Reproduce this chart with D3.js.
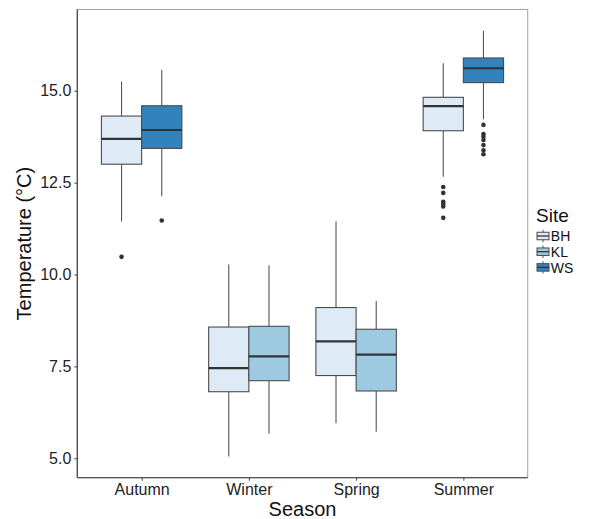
<!DOCTYPE html>
<html>
<head>
<meta charset="utf-8">
<script src="https://cdn.jsdelivr.net/npm/d3@7"></script>
<style>
  html, body { margin: 0; padding: 0; background: #fff; }
  svg { display: block; font-family: "Liberation Sans", Arial, sans-serif; }
</style>
</head>
<body>
<svg id="chart" width="590" height="519"></svg>
<script>
// ---- Data ----
const seasons = ["Autumn", "Winter", "Spring", "Summer"];
const sites = ["BH", "KL", "WS"];
const siteColors = ["#deebf7", "#9ecae1", "#3182bd"];

const boxSeason = ["Autumn", "Autumn", "Winter", "Winter", "Spring", "Spring", "Summer", "Summer"];
const boxSite   = ["BH", "WS", "BH", "KL", "BH", "KL", "BH", "WS"];
const whiskerLow  = [11.44, 12.13, 5.05, 5.67, 5.95, 5.72, 12.66, 14.22];
const q1          = [13.00, 13.43, 6.81, 7.11, 7.25, 6.83, 13.91, 15.22];
const medians     = [13.69, 13.93, 7.45, 7.77, 8.18, 7.82, 14.58, 15.61];
const q3          = [14.31, 14.59, 8.57, 8.59, 9.10, 8.51, 14.82, 15.89];
const whiskerHigh = [15.25, 15.57, 10.27, 10.25, 11.45, 9.28, 15.75, 16.63];
const outliers = [
  [10.48],
  [11.47],
  [],
  [],
  [],
  [],
  [12.38, 12.22, 11.98, 11.92, 11.85, 11.54],
  [14.07, 13.82, 13.75, 13.66, 13.52, 13.38, 13.27]
];
const yTicks = [5.0, 7.5, 10.0, 12.5, 15.0];

// ---- Layout ----
const svg = d3.select("#chart");
const panel = { left: 77.3, right: 527.7, top: 9.5, bottom: 477.7 };

const allVals = whiskerLow.concat(whiskerHigh, outliers.flat());
const dMin = d3.min(allVals), dMax = d3.max(allVals);
const pad = (dMax - dMin) * 0.05;

const y = d3.scaleLinear().domain([dMin - pad, dMax + pad]).range([panel.bottom, panel.top]);
const x = d3.scalePoint().domain(seasons).range([panel.left, panel.right]).padding(0.6);
const color = d3.scaleOrdinal().domain(sites).range(siteColors);

const groupW = x.step() * 0.75;
const boxW = groupW / 2;

const boxes = boxSeason.map((s, i) => {
  const sameSeason = boxSeason.map((t, j) => t === s ? j : -1).filter(j => j >= 0);
  const idx = sameSeason.indexOf(i);
  const cx = x(s) - groupW / 2 + boxW * idx + boxW / 2;
  return { i, season: s, site: boxSite[i], cx };
});

// Panel border (top/right light)
svg.append("rect")
  .attr("x", panel.left).attr("y", panel.top)
  .attr("width", panel.right - panel.left).attr("height", panel.bottom - panel.top)
  .attr("fill", "none").attr("stroke", "#a8a8a8").attr("stroke-width", 1.1);

// Boxes
const g = svg.append("g");
boxes.forEach(b => {
  const i = b.i;
  g.append("line").attr("x1", b.cx).attr("x2", b.cx)
    .attr("y1", y(q3[i])).attr("y2", y(whiskerHigh[i]))
    .attr("stroke", "#555").attr("stroke-width", 1.1);
  g.append("line").attr("x1", b.cx).attr("x2", b.cx)
    .attr("y1", y(q1[i])).attr("y2", y(whiskerLow[i]))
    .attr("stroke", "#555").attr("stroke-width", 1.1);
  g.append("rect")
    .attr("x", b.cx - boxW / 2).attr("width", boxW)
    .attr("y", y(q3[i])).attr("height", y(q1[i]) - y(q3[i]))
    .attr("fill", color(b.site)).attr("stroke", "#4a4a4a").attr("stroke-width", 1.1);
  g.append("line").attr("x1", b.cx - boxW / 2).attr("x2", b.cx + boxW / 2)
    .attr("y1", y(medians[i])).attr("y2", y(medians[i]))
    .attr("stroke", "#333").attr("stroke-width", 2.2);
  outliers[i].forEach(v => {
    g.append("circle").attr("cx", b.cx).attr("cy", y(v)).attr("r", 2.3).attr("fill", "#333");
  });
});

// Axes
const yAxis = d3.axisLeft(y).tickValues(yTicks).tickFormat(d3.format(".1f")).tickSize(3).tickPadding(3);
const yg = svg.append("g").attr("transform", `translate(${panel.left},0)`).call(yAxis);
yg.select(".domain").attr("d", `M0,${panel.top}V${panel.bottom}`).attr("stroke", "#444").attr("stroke-width", 1.2);
yg.selectAll(".tick line").attr("stroke", "#444");
yg.selectAll(".tick text").attr("font-size", 16).attr("fill", "#222").attr("font-family", "Liberation Sans, Arial, sans-serif");

const xAxis = d3.axisBottom(x).tickSize(3).tickPadding(3);
const xg = svg.append("g").attr("transform", `translate(0,${panel.bottom})`).call(xAxis);
xg.select(".domain").attr("d", `M${panel.left},0H${panel.right}`).attr("stroke", "#555").attr("stroke-width", 1.2);
xg.selectAll(".tick line").attr("stroke", "#444");
xg.selectAll(".tick text").attr("font-size", 16).attr("fill", "#222").attr("font-family", "Liberation Sans, Arial, sans-serif");

// Axis titles
svg.append("text").attr("x", (panel.left + panel.right) / 2).attr("y", 516)
  .attr("text-anchor", "middle").attr("font-size", 20).attr("fill", "#111").text("Season");
svg.append("text")
  .attr("transform", `translate(31,${(panel.top + panel.bottom) / 2}) rotate(-90)`)
  .attr("text-anchor", "middle").attr("font-size", 20).attr("fill", "#111").text("Temperature (°C)");

// Legend
const lg = svg.append("g");
lg.append("text").attr("x", 536).attr("y", 222).attr("font-size", 19).attr("fill", "#111").text("Site");
const keyCy = [236, 251.7, 267.4];
const kx0 = 537, kw = 12, kh = 12.5;
sites.forEach((s, k) => {
  const cy = keyCy[k];
  const cx = kx0 + kw / 2;
  lg.append("line").attr("x1", cx).attr("x2", cx).attr("y1", cy - kh / 2).attr("y2", cy + kh / 2)
    .attr("stroke", "#555").attr("stroke-width", 1);
  lg.append("rect").attr("x", kx0).attr("y", cy - kh * 0.3).attr("width", kw).attr("height", kh * 0.6)
    .attr("fill", color(s)).attr("stroke", "#4a4a4a").attr("stroke-width", 1);
  lg.append("line").attr("x1", kx0).attr("x2", kx0 + kw).attr("y1", cy).attr("y2", cy)
    .attr("stroke", "#333").attr("stroke-width", 1.3);
  lg.append("text").attr("x", kx0 + kw + 1.8).attr("y", cy + 5.2).attr("font-size", 14).attr("fill", "#111").text(s);
});
</script>
</body>
</html>
